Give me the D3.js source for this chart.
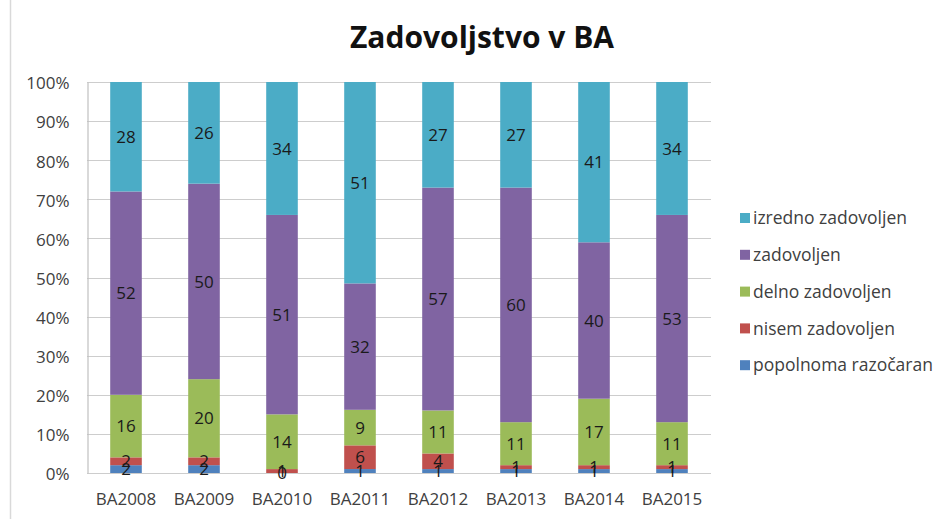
<!DOCTYPE html>
<html>
<head>
<meta charset="utf-8">
<script src="https://cdn.jsdelivr.net/npm/d3@7"></script>
<style>
  html, body { margin: 0; padding: 0; background: #fff; }
  svg { display: block; }
</style>
</head>
<body>
<svg id="chart" width="944" height="519"></svg>
<script>
// Survey years
const categories = ["BA2008", "BA2009", "BA2010", "BA2011", "BA2012", "BA2013", "BA2014", "BA2015"];

// Answers, bottom of the stack first
const seriesNames = ["popolnoma razočaran", "nisem zadovoljen", "delno zadovoljen", "zadovoljen", "izredno zadovoljen"];
const popolnoma = [2, 2, 0, 1, 1, 1, 1, 1];
const nisem     = [2, 2, 1, 6, 4, 1, 1, 1];
const delno     = [16, 20, 14, 9, 11, 11, 17, 11];
const zadovoljen = [52, 50, 51, 32, 57, 60, 40, 53];
const izredno   = [28, 26, 34, 51, 27, 27, 41, 34];
const seriesValues = [popolnoma, nisem, delno, zadovoljen, izredno];
const seriesColors = ["#4f81bd", "#c0504d", "#9bbb59", "#8064a2", "#4bacc6"];

const yTicks = [0, 0.1, 0.2, 0.3, 0.4, 0.5, 0.6, 0.7, 0.8, 0.9, 1];

const svg = d3.select("#chart");
const font = "'Open Sans', 'Noto Sans', sans-serif";

// outer frame edge on the left
svg.append("line")
  .attr("x1", 10.5).attr("x2", 10.5).attr("y1", 0).attr("y2", 519)
  .attr("stroke", "#d9d9d9").attr("stroke-width", 1.5);

const plot = { left: 87, right: 711, top: 82, bottom: 473 };

const x = d3.scaleBand().domain(categories).range([plot.left, plot.right]).paddingInner(0.595).paddingOuter(0.2975);
const y = d3.scaleLinear().domain([0, 1]).range([plot.bottom, plot.top]);

// table of rows for stacking
const rows = categories.map((c, i) => {
  const r = { cat: c };
  seriesNames.forEach((s, k) => r[s] = seriesValues[k][i]);
  return r;
});
const stack = d3.stack().keys(seriesNames).offset(d3.stackOffsetExpand);
const layers = stack(rows);

// gridlines
svg.append("g")
  .selectAll("line")
  .data(yTicks)
  .join("line")
  .attr("x1", plot.left).attr("x2", plot.right)
  .attr("y1", d => Math.round(y(d)) + 0.5).attr("y2", d => Math.round(y(d)) + 0.5)
  .attr("stroke", "#cdcdcd").attr("stroke-width", 1.2);

// y axis
const yAxis = d3.axisLeft(y).tickValues(yTicks).tickFormat(d3.format(".0%")).tickSize(0).tickPadding(18);
const gy = svg.append("g").attr("transform", `translate(${plot.left + 0.5},0)`).call(yAxis);
gy.select(".domain").attr("stroke", "#c0c0c0").attr("stroke-width", 1.2);
gy.selectAll(".tick text")
  .attr("font-family", font).attr("font-size", 17).attr("fill", "#404040")
  .attr("dy", "0.4em");

// bars
const layerG = svg.append("g")
  .selectAll("g")
  .data(layers)
  .join("g")
  .attr("fill", (d, i) => seriesColors[i]);

layerG.selectAll("rect")
  .data(d => d)
  .join("rect")
  .attr("x", d => x(d.data.cat))
  .attr("width", x.bandwidth())
  .attr("y", d => y(d[1]))
  .attr("height", d => y(d[0]) - y(d[1]));

// data labels
const labelG = svg.append("g");
layers.forEach((layer, k) => {
  labelG.selectAll(null)
    .data(layer)
    .join("text")
    .attr("x", d => x(d.data.cat) + x.bandwidth() / 2)
    .attr("y", d => (y(d[0]) + y(d[1])) / 2)
    .attr("dy", "0.36em")
    .attr("text-anchor", "middle")
    .attr("font-family", font)
    .attr("font-size", 17)
    .attr("fill", "#1a1a1a")
    .text(d => d.data[seriesNames[k]]);
});

// x axis labels
svg.append("g")
  .selectAll("text")
  .data(categories)
  .join("text")
  .attr("x", d => x(d) + x.bandwidth() / 2)
  .attr("y", 505)
  .attr("text-anchor", "middle")
  .attr("font-family", font)
  .attr("font-size", 17)
  .attr("fill", "#404040")
  .text(d => d);

// title
svg.append("text")
  .attr("x", 482).attr("y", 48)
  .attr("text-anchor", "middle")
  .attr("font-family", font)
  .attr("font-weight", "bold")
  .attr("font-size", 30)
  .attr("fill", "#111")
  .text("Zadovoljstvo v BA");

// legend, top entry is the top of the stack
const legendItems = seriesNames.map((s, i) => ({ name: s, color: seriesColors[i] })).reverse();
const legend = svg.append("g").attr("transform", "translate(740,0)");
const lg = legend.selectAll("g")
  .data(legendItems)
  .join("g")
  .attr("transform", (d, i) => `translate(0,${218 + i * 36.8})`);
lg.append("rect")
  .attr("x", 0).attr("y", -5).attr("width", 10).attr("height", 10)
  .attr("fill", d => d.color);
lg.append("text")
  .attr("x", 13).attr("y", 0).attr("dy", "0.35em")
  .attr("font-family", font)
  .attr("font-size", 17.5)
  .attr("fill", "#404040")
  .text(d => d.name);
</script>
</body>
</html>
